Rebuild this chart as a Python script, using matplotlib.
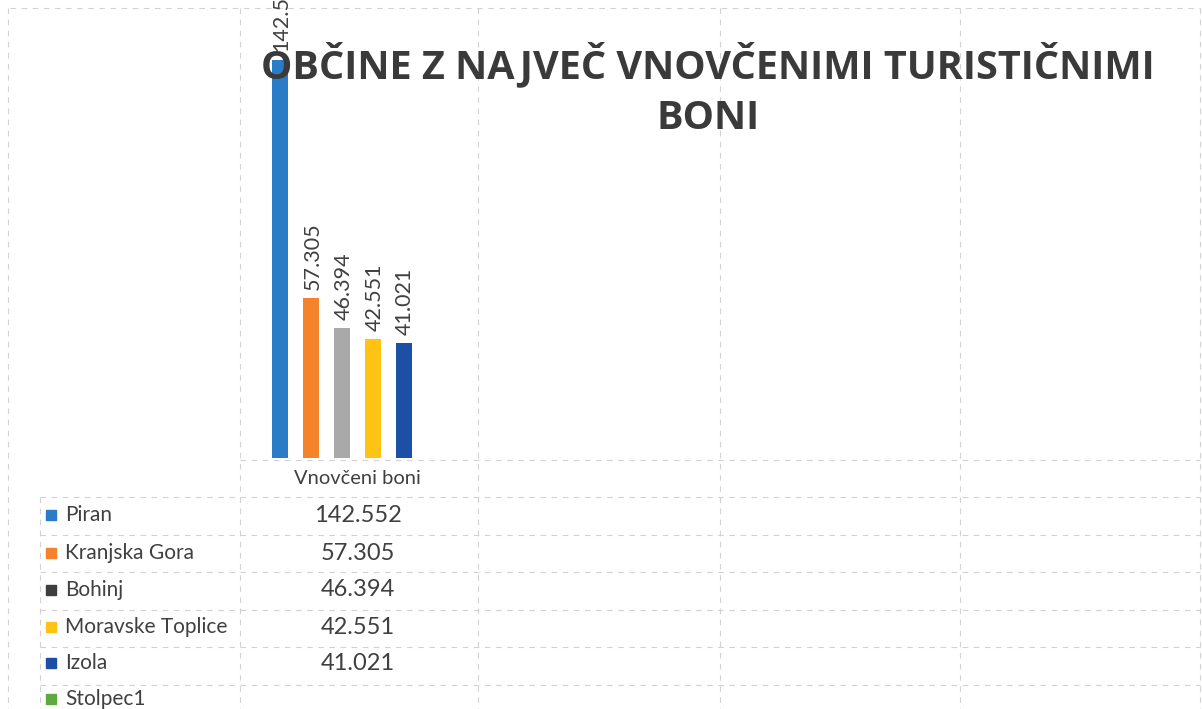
# Občine z največ vnovčenimi turističnimi boni – stolpčni graf s tabelo podatkov
import matplotlib
matplotlib.use("Agg")
import matplotlib.pyplot as plt

# podatki
obcine = ["Piran", "Kranjska Gora", "Bohinj", "Moravske Toplice", "Izola", "Stolpec1"]
vrednosti = [142552, 57305, 46394, 42551, 41021, None]
kategorije = ["Vnovčeni boni", "", "", ""]
oznake = ["142.552", "57.305", "46.394", "42.551", "41.021", ""]

barve = ["#2B7CC6", "#F5832B", "#A9A9A9", "#FFC314", "#1E4FA6", "#5DAA3E"]
barve_kljuc = ["#2B7CC6", "#F5832B", "#3E3E3E", "#FFC314", "#1E4FA6", "#5DAA3E"]

PISAVA = ["Lato", "DejaVu Sans"]
TEKST = "#404040"
MREZA = "#D2D2D2"

W, H = 1202, 709
fig = plt.figure(figsize=(W / 100, H / 100), dpi=100)
fig.patch.set_facecolor("white")

# ozadje s črtami preglednice (v pikslih)
bg = fig.add_axes([0, 0, 1, 1])
bg.set_xlim(0, W)
bg.set_ylim(H, 0)
bg.axis("off")

def crta(x0, y0, x1, y1):
    bg.plot([x0, x1], [y0, y1], color=MREZA, lw=0.8, ls=(0, (5, 5)), zorder=0)

crta(10, 8, 1200, 8)
crta(8, 8, 8, 709)
for x in [240, 478, 720, 960, 1200]:
    crta(x, 8, x, 709)
crta(240, 460, 1200, 460)
crta(40, 497, 40, 709)
for y in [497, 535, 572, 610, 647, 685]:
    crta(40, y, 1200, y)

# graf
ax = fig.add_axes([240 / W, (H - 458) / H, 960 / W, (458 - 11) / H])
ax.set_xlim(0, len(kategorije))
ax.set_ylim(0, 160000)
ax.axis("off")
ax.patch.set_alpha(0)

korak = 0.129
sirina = 0.068
for i, (ime, v) in enumerate(zip(obcine, vrednosti)):
    if v is None:
        continue
    x = 0.49 + (i - 2.5) * korak
    ax.bar(x, v, width=sirina, color=barve[i], zorder=2)
    ax.text(x + 0.005, v + 3000, oznake[i], rotation=90, ha="center", va="bottom",
            fontsize=15.5, color=TEKST, family=PISAVA, zorder=3)

# naslov
fig.text(708 / W, 1 - 90 / H, "OBČINE Z NAJVEČ VNOVČENIMI TURISTIČNIMI\nBONI",
         ha="center", va="center", fontsize=28.5, fontweight="bold",
         color="#3A3A3A", family=["Open Sans", "DejaVu Sans"], linespacing=1.38,
         zorder=5)

# kategorija
bg.text(357, 479, kategorije[0], ha="center", va="center", fontsize=14.5,
        color=TEKST, family=PISAVA)

# tabela podatkov
vrstice = [515, 553, 590, 627, 663, 699]
for i, ime in enumerate(obcine):
    y = vrstice[i]
    bg.add_patch(plt.Rectangle((46, y - 5), 10, 10, color=barve_kljuc[i]))
    bg.text(65, y, ime, ha="left", va="center", fontsize=15,
            color=TEKST, family=PISAVA)
    if oznake[i]:
        bg.text(358, y, oznake[i], ha="center", va="center", fontsize=17,
                color=TEKST, family=PISAVA)

fig.savefig("out.png", dpi=100)
